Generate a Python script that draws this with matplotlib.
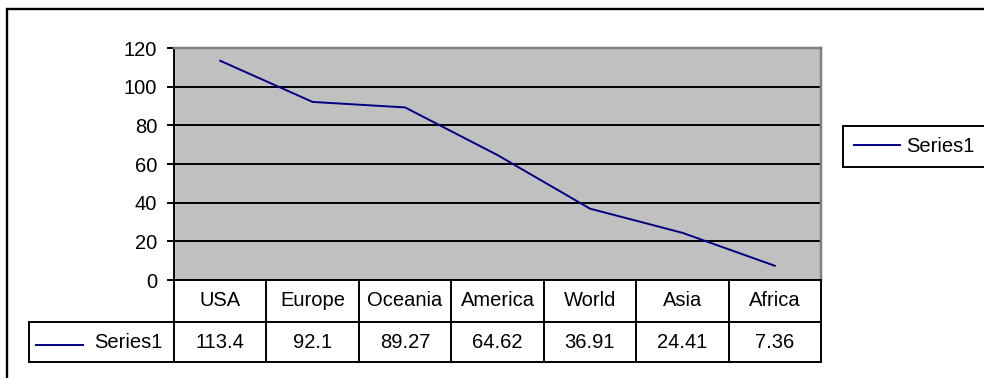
import matplotlib
matplotlib.use("Agg")
import matplotlib.pyplot as plt
from matplotlib.lines import Line2D
from matplotlib.patches import Rectangle
from matplotlib import transforms

categories = ["USA", "Europe", "Oceania", "America", "World", "Asia", "Africa"]
values = [113.4, 92.1, 89.27, 64.62, 36.91, 24.41, 7.36]
value_labels = ["113.4", "92.1", "89.27", "64.62", "36.91", "24.41", "7.36"]
series_name = "Series1"
y_ticks = [0, 20, 40, 60, 80, 100, 120]

plt.rcParams['font.family'] = ['Liberation Sans', 'DejaVu Sans']

W, H = 984, 378
FS = 14.5
LW = 1.4
NAVY = '#000080'

fig = plt.figure(figsize=(W / 100, H / 100), dpi=100)


def fx(px):
    return px / W


def fy(py):
    return 1 - py / H


# plot area
left, right, top, bottom = 174, 821, 48, 280
ax = fig.add_axes([fx(left), fy(bottom), (right - left) / W, (bottom - top) / H])
ax.set_facecolor('#C0C0C0')
xs = list(range(len(categories)))
line, = ax.plot(xs, values, color=NAVY, lw=LW, label=series_name, zorder=3,
                solid_joinstyle='round')
ax.set_xlim(-0.5, len(categories) - 0.5)
ax.set_ylim(y_ticks[0], y_ticks[-1])
ax.set_yticks(y_ticks)
ax.set_xticks([])
ax.set_axisbelow(True)
ax.yaxis.grid(True, color='black', lw=LW)
for side in ('top', 'right'):
    ax.spines[side].set_color('#808080')
    ax.spines[side].set_linewidth(LW + 0.4)
for side in ('left', 'bottom'):
    ax.spines[side].set_color('black')
    ax.spines[side].set_linewidth(LW)
ax.tick_params(axis='y', direction='out', length=5, width=LW, labelsize=FS,
               pad=7, colors='black')

# data table under the plot
blend = transforms.blended_transform_factory(ax.transData, fig.transFigure)
row_top, row_mid, row_bot = 280, 322, 362
key_left = 29
x_right = ax.get_position().x1
for yp in (row_mid, row_bot):
    fig.add_artist(Line2D([fx(key_left), x_right], [fy(yp), fy(yp)],
                          color='black', lw=LW, transform=fig.transFigure))
for i in range(len(categories) + 1):
    fig.add_artist(Line2D([i - 0.5, i - 0.5], [fy(row_top), fy(row_bot)],
                          color='black', lw=LW, transform=blend))
fig.add_artist(Line2D([fx(key_left), fx(key_left)], [fy(row_mid), fy(row_bot)],
                      color='black', lw=LW, transform=fig.transFigure))
for i, (cat, lab) in enumerate(zip(categories, value_labels)):
    fig.text(i, fy((row_top + row_mid) / 2), cat, transform=blend,
             ha='center', va='center', fontsize=FS)
    fig.text(i, fy((row_mid + row_bot) / 2), lab, transform=blend,
             ha='center', va='center', fontsize=FS)
fig.add_artist(Line2D([fx(36), fx(83)], [fy(345), fy(345)], color=NAVY, lw=LW,
                      transform=fig.transFigure))
fig.text(fx(163), fy((row_mid + row_bot) / 2), series_name, ha='right',
         va='center', fontsize=FS)

# legend at the right
leg = fig.legend(handles=[line], loc='center left',
                 bbox_to_anchor=(fx(843), fy(146.5)), frameon=True,
                 fancybox=False, edgecolor='black', framealpha=1,
                 borderaxespad=0, handlelength=2.3, handletextpad=0.3,
                 fontsize=FS, borderpad=0.55)
leg.get_frame().set_linewidth(LW)

# chart frame
fig.add_artist(Rectangle((fx(7), -0.1), 1.2, fy(8.5) + 0.1, fill=False,
                         edgecolor='black', lw=1.7, transform=fig.transFigure))

fig.savefig('out.png', dpi=100)
